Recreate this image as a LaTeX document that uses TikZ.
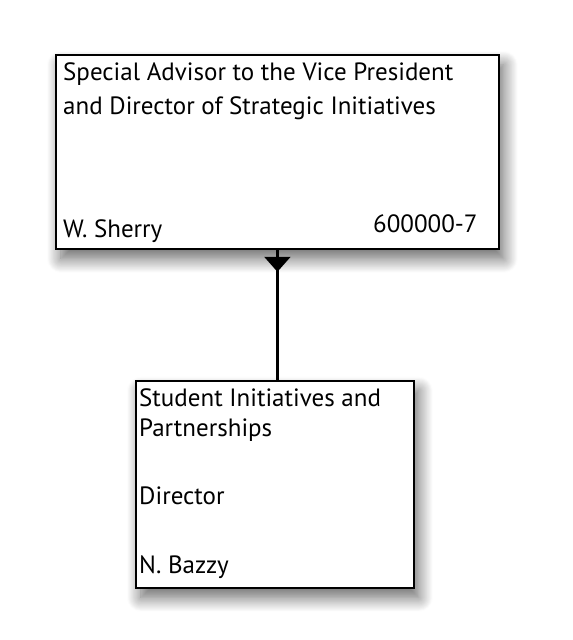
\documentclass[tikz,border=0pt]{standalone}
\usepackage{fontspec}
\setmainfont{PT Sans}
\usetikzlibrary{positioning,shadows.blur,arrows.meta,decorations.markings}

\tikzset{
  unitbox/.style={draw=black, line width=1.8pt, fill=white, inner sep=0pt,
    blur shadow={shadow xshift=5pt, shadow yshift=-10pt, shadow blur radius=14pt,
      shadow blur steps=16, shadow opacity=60}},
  unittext/.style={inner sep=0pt, anchor=base west, font=\fontsize{25}{34}\selectfont},
  reportline/.style={line width=2.2pt, postaction={decorate},
    decoration={markings, mark=at position 22pt with {\arrow{Triangle[width=26pt,length=15pt]}}}},
}

\begin{document}
\begin{tikzpicture}[x=1pt,y=-1pt]
  \useasboundingbox (0,0) rectangle (573,640);
  % boxes
  \node [unitbox, anchor=north west, minimum width=443pt, minimum height=194pt] (vp) at (55,54) {};
  \node [unitbox, minimum width=278pt, minimum height=207pt, below=130pt of vp, xshift=-2.5pt] (sip) {};
  %
  \node [unittext] (vpa) at ([shift={(8,26)}]vp.north west) {Special Advisor to the Vice President};
  \node [unittext] (vpb) at ([shift={(0,34)}]vpa.base west) {and Director of Strategic Initiatives};
  \node [unittext] (vpname) at ([shift={(8,-12)}]vp.south west) {W. Sherry};
  \node [unittext, anchor=base east] (vpnum) at ([shift={(-22,-17)}]vp.south east) {600000-7};
  %
  \node [unittext] (sipa) at ([shift={(4,27)}]sip.north west) {Student Initiatives and};
  \node [unittext] (sipb) at ([shift={(0,30)}]sipa.base west) {Partnerships};
  \node [unittext] (siptitle) at ([shift={(0,68)}]sipb.base west) {Director};
  \node [unittext] (sipname) at ([shift={(0,69)}]siptitle.base west) {N. Bazzy};
  %
  \draw [reportline] (vp.south) -- (vp.south |- sip.north);
\end{tikzpicture}
\end{document}
